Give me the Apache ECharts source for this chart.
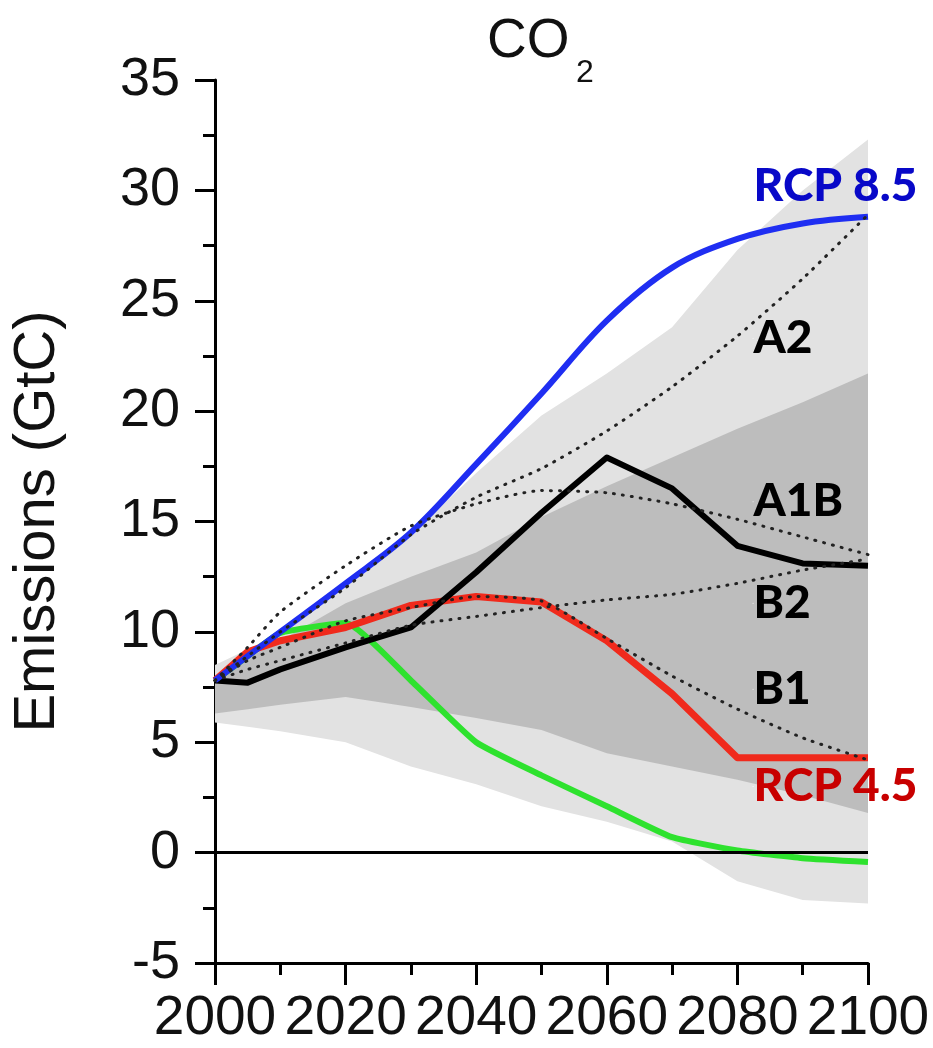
<!DOCTYPE html>
<html lang="en">
<head>
  <meta charset="UTF-8">
  <title>CO2 emissions</title>
  <style>
    html, body { margin: 0; padding: 0; background: #fff; }
    #main { width: 933px; height: 1048px; }
  </style>
</head>
<body>
  <div id="main"></div>
  <script src="https://cdn.jsdelivr.net/npm/echarts@6/dist/echarts.min.js"></script>
  <script type="text/javascript">
    // years shared by every series
    var years = [2000, 2005, 2010, 2020, 2030, 2040, 2050, 2060, 2070, 2080, 2090, 2100];

    // RCP pathways (solid lines)
    var rcp85 = [7.8, 8.9, 10.0, 12.2, 14.5, 17.6, 20.8, 24.1, 26.5, 27.8, 28.5, 28.8];
    var rcp6 = [7.8, 7.7, 8.3, 9.3, 10.2, 12.7, 15.4, 17.9, 16.5, 13.9, 13.1, 13.0];
    var rcp45 = [7.8, 9.1, 9.6, 10.2, 11.2, 11.6, 11.35, 9.6, 7.2, 4.3, 4.3, 4.3];
    var rcp26 = [7.8, 8.9, 9.95, 10.4, 7.8, 5.0, 3.5, 2.1, 0.7, 0.1, -0.25, -0.42];

    // SRES scenarios (dotted lines)
    var sresA2 = [7.8, 8.9, 10.0, 12.0, 14.4, 16.1, 17.4, 19.1, 21.1, 23.4, 26.0, 28.9];
    var sresA1B = [7.8, 9.3, 10.9, 13.0, 14.8, 15.8, 16.4, 16.3, 15.8, 15.1, 14.3, 13.5];
    var sresB2 = [7.8, 8.3, 8.7, 9.5, 10.3, 10.7, 11.1, 11.45, 11.7, 12.2, 12.8, 13.3];
    var sresB1 = [7.8, 8.7, 9.3, 10.5, 11.1, 11.6, 11.4, 9.7, 8.0, 6.5, 5.2, 4.2];

    // shaded ranges
    var outerHigh = [8.5, 9.2, 10.0, 12.2, 14.4, 17.2, 19.8, 21.7, 23.8, 27.3, 30.0, 32.3];
    var outerLow = [5.9, 5.7, 5.5, 5.0, 3.9, 3.1, 2.1, 1.4, 0.5, -1.3, -2.15, -2.3];
    var innerHigh = [8.0, 8.8, 9.6, 11.3, 12.5, 13.6, 15.2, 16.6, 17.9, 19.2, 20.4, 21.7];
    var innerLow = [6.3, 6.5, 6.7, 7.05, 6.6, 6.1, 5.55, 4.5, 3.9, 3.3, 2.6, 1.8];

    // scenario labels
    var labelTexts = ['RCP 8.5', 'A2', 'A1B', 'B2', 'B1', 'RCP 4.5'];
    var labelValues = [30.2, 23.3, 15.9, 11.3, 7.4, 3.0];
    var labelColors = ['#0808c8', '#000000', '#000000', '#000000', '#000000', '#c80000'];
    var labelYear = 2082.4;

    function pairs(vals) {
      return years.map(function (y, i) { return [y, vals[i]]; });
    }

    // range drawn as a polygon through the axes' own scales
    function band(name, hi, lo, color, z) {
      return {
        name: name, type: 'custom', z: z, silent: true,
        data: [[years[0], hi[0]]],
        renderItem: function (params, api) {
          var pts = [];
          for (var i = 0; i < years.length; i++) pts.push(api.coord([years[i], hi[i]]));
          for (var j = years.length - 1; j >= 0; j--) pts.push(api.coord([years[j], lo[j]]));
          return { type: 'polygon', shape: { points: pts }, style: { fill: color } };
        }
      };
    }

    function solid(name, vals, color, width, smooth) {
      return {
        name: name, type: 'line', data: pairs(vals), symbol: 'none',
        smooth: smooth, z: 4,
        lineStyle: { color: color, width: width, join: 'round' }
      };
    }
    function dotted(name, vals) {
      return {
        name: name, type: 'line', data: pairs(vals), symbol: 'none',
        smooth: 0.2, z: 5,
        lineStyle: { color: '#222', width: 3, type: [1, 8], cap: 'round' }
      };
    }

    var font = "'Liberation Sans', Arial, Helvetica, sans-serif";
    var myChart = echarts.init(document.getElementById('main'));

    var labelData = labelTexts.map(function (t, i) {
      return { name: t, value: [labelYear, labelValues[i]], label: { color: labelColors[i] } };
    });

    var option = {
      animation: false,
      grid: { left: 215, right: 65, top: 80, bottom: 85 },
      graphic: [
        { type: 'text', left: 487, top: 14, style: { text: 'CO', font: '55px ' + font, fill: '#111' } },
        { type: 'text', left: 576, top: 57, style: { text: '2', font: '32px ' + font, fill: '#111' } }
      ],
      xAxis: {
        type: 'value', min: 2000, max: 2100, interval: 20,
        axisLine: { onZero: false, lineStyle: { color: '#000', width: 3 } },
        axisTick: { length: 22, lineStyle: { width: 3, color: '#000' } },
        minorTick: { show: true, splitNumber: 2, length: 12, lineStyle: { width: 3, color: '#000' } },
        splitLine: { show: false },
        axisLabel: {
          fontSize: 55, fontFamily: font, color: '#111', margin: 28,
          showMinLabel: true, showMaxLabel: true, hideOverlap: false,
          formatter: function (v) { return String(v); }
        }
      },
      yAxis: {
        type: 'value', min: -5, max: 35, interval: 5,
        name: 'Emissions (GtC)', nameLocation: 'middle', nameGap: 148,
        nameTextStyle: { fontSize: 58, fontFamily: font, color: '#111' },
        axisLine: { show: true, lineStyle: { color: '#000', width: 3 } },
        axisTick: { show: true, length: 20, lineStyle: { width: 3, color: '#000' } },
        minorTick: { show: true, splitNumber: 2, length: 12, lineStyle: { width: 3, color: '#000' } },
        splitLine: { show: false },
        axisLabel: { fontSize: 54, fontFamily: font, color: '#111', margin: 35 }
      },
      series: [
        band('outer range', outerHigh, outerLow, '#e2e2e2', 1),
        band('inner range', innerHigh, innerLow, '#bdbdbd', 2),
        {
          name: 'zero', type: 'line', data: [], z: 3,
          markLine: {
            silent: true, symbol: ['none', 'none'], label: { show: false },
            lineStyle: { color: '#000', width: 3, type: 'solid' },
            data: [{ yAxis: 0 }]
          }
        },
        solid('RCP 2.6', rcp26, '#2ee22e', 6, 0.15),
        solid('RCP 4.5', rcp45, '#f02a1c', 7, false),
        solid('RCP 6', rcp6, '#000', 6, false),
        solid('RCP 8.5', rcp85, '#1f2ef2', 6, 0.35),
        dotted('A2', sresA2),
        dotted('A1B', sresA1B),
        dotted('B2', sresB2),
        dotted('B1', sresB1),
        {
          name: 'labels', type: 'scatter', data: labelData, symbolSize: 1,
          itemStyle: { color: '#fff', opacity: 1 }, z: 6, silent: true,
          label: {
            show: true, position: 'right', distance: 0, opacity: 1,
            textBorderWidth: 0,
            formatter: function (p) { return p.name; },
            fontFamily: 'Lato, "Open Sans", sans-serif', fontWeight: 900, fontSize: 46
          }
        }
      ]
    };

    myChart.setOption(option);
  </script>
</body>
</html>
